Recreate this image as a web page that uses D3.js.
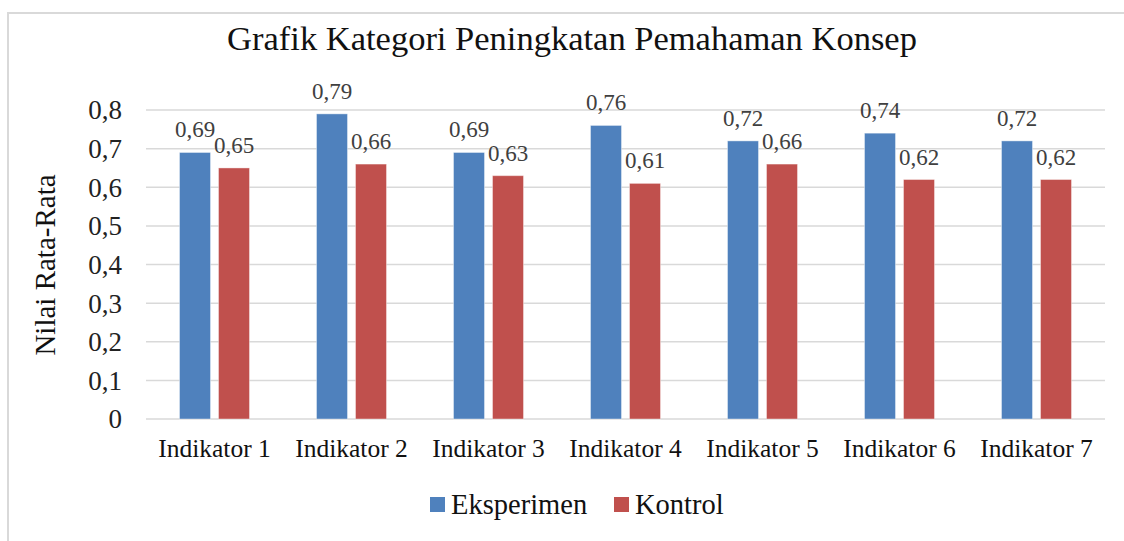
<!DOCTYPE html>
<html>
<head>
<meta charset="utf-8">
<script src="https://cdn.jsdelivr.net/npm/d3@7"></script>
<style>
  body { margin: 0; background: #fff; }
</style>
</head>
<body>
<div id="chart"></div>
<script>
const categories = ["Indikator 1","Indikator 2","Indikator 3","Indikator 4","Indikator 5","Indikator 6","Indikator 7"];
const eksperimen = [0.69, 0.79, 0.69, 0.76, 0.72, 0.74, 0.72];
const kontrol = [0.65, 0.66, 0.63, 0.61, 0.66, 0.62, 0.62];
const seriesNames = ["Eksperimen", "Kontrol"];
const yTicks = [0, 0.1, 0.2, 0.3, 0.4, 0.5, 0.6, 0.7, 0.8];

const width = 1124, height = 541;
const colors = {Eksperimen: "#4f81bd", Kontrol: "#c0504d"};
const fmt = v => String(v).replace(".", ",");
const serif = "'Liberation Serif', 'Times New Roman', Times, serif";

const svg = d3.select("#chart").append("svg")
  .attr("width", width).attr("height", height)
  .style("font-family", serif);

// chart frame (right and bottom edges are cut off in the original)
svg.append("rect")
  .attr("x", 8).attr("y", 13)
  .attr("width", 1200).attr("height", 600)
  .attr("fill", "#fff").attr("stroke", "#d9d9d9").attr("stroke-width", 2);

const x = d3.scaleBand().domain(categories).range([146, 1105]);
const bw = x.bandwidth();
const xSub = d3.scaleBand().domain(seriesNames)
  .range([bw/2 - 35, bw/2 + 35]).paddingInner(8/39);
const y = d3.scaleLinear().domain([0, 0.8]).range([419, 110]);

// gridlines
svg.append("g").selectAll("line")
  .data(yTicks)
  .join("line")
  .attr("x1", 146).attr("x2", 1105)
  .attr("y1", d => y(d)).attr("y2", d => y(d))
  .attr("stroke", "#d9d9d9").attr("stroke-width", 1.5);

// y tick labels
svg.append("g").selectAll("text")
  .data(yTicks)
  .join("text")
  .attr("x", 122).attr("y", d => y(d))
  .attr("dy", "0.35em")
  .attr("text-anchor", "end")
  .attr("font-size", 27)
  .attr("fill", "#222")
  .text(d => fmt(d));

const rows = categories.map((c, i) => ({cat: c, vals: [
  {s: "Eksperimen", v: eksperimen[i]},
  {s: "Kontrol", v: kontrol[i]}
]}));

const groups = svg.append("g").selectAll("g")
  .data(rows)
  .join("g")
  .attr("transform", d => `translate(${x(d.cat)},0)`);

groups.selectAll("rect")
  .data(d => d.vals)
  .join("rect")
  .attr("x", d => xSub(d.s))
  .attr("width", xSub.bandwidth())
  .attr("y", d => y(d.v))
  .attr("height", d => y(0) - y(d.v))
  .attr("fill", d => colors[d.s])
  .attr("stroke", "#fff").attr("stroke-opacity", 0.4).attr("stroke-width", 1);

groups.selectAll("text")
  .data(d => d.vals)
  .join("text")
  .attr("x", d => xSub(d.s) + xSub.bandwidth()/2)
  .attr("y", d => y(d.v) - 15)
  .attr("text-anchor", "middle")
  .attr("font-size", 23)
  .attr("fill", "#404040")
  .text(d => fmt(d.v));

// category labels
svg.append("g").selectAll("text")
  .data(categories)
  .join("text")
  .attr("x", d => x(d) + bw/2)
  .attr("y", 457)
  .attr("text-anchor", "middle")
  .attr("font-size", 25.5)
  .attr("fill", "#111")
  .text(d => d);

// title
svg.append("text")
  .attr("x", 572).attr("y", 50)
  .attr("text-anchor", "middle")
  .attr("font-size", 34.5)
  .attr("fill", "#111")
  .text("Grafik Kategori Peningkatan Pemahaman Konsep");

// y axis title
svg.append("text")
  .attr("transform", "translate(55,265) rotate(-90)")
  .attr("text-anchor", "middle")
  .attr("font-size", 29)
  .attr("fill", "#111")
  .text("Nilai Rata-Rata");

// legend
const legendX = [430, 614];
const legend = svg.append("g").selectAll("g")
  .data(seriesNames)
  .join("g")
  .attr("transform", (d, i) => `translate(${legendX[i]},497)`);
legend.append("rect")
  .attr("width", 15).attr("height", 15)
  .attr("fill", d => colors[d]);
legend.append("text")
  .attr("x", 21).attr("y", 17)
  .attr("font-size", 28.5)
  .attr("fill", "#111")
  .text(d => d);
</script>
</body>
</html>
